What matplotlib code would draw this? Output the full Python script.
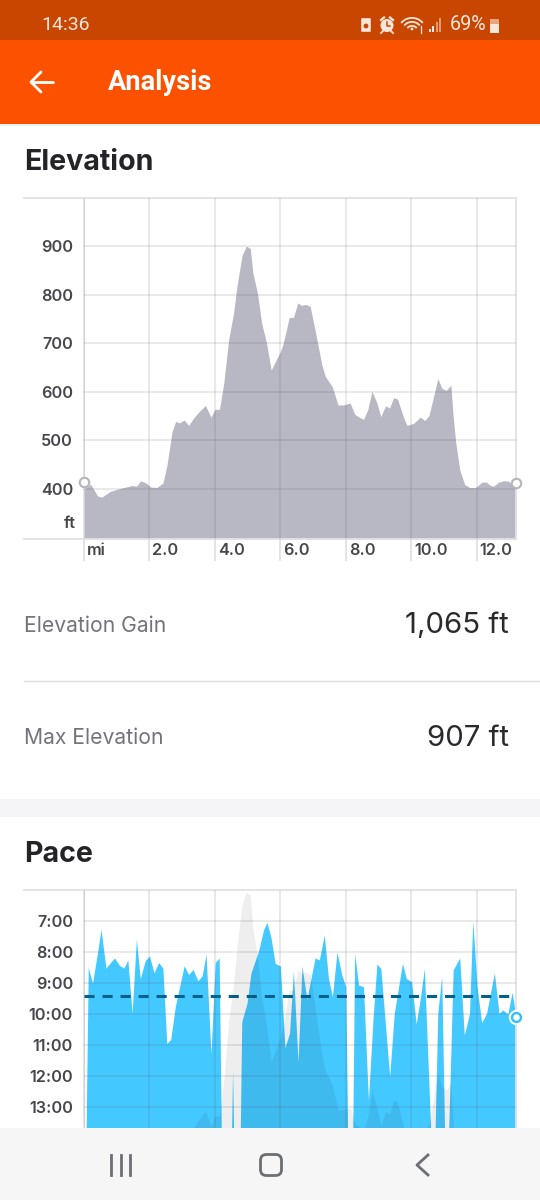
import matplotlib
matplotlib.use("Agg")
import matplotlib.pyplot as plt
from matplotlib.patches import Rectangle, FancyBboxPatch, Circle, Polygon, Wedge
from matplotlib.transforms import ScaledTranslation

plt.rcParams['font.family'] = ['Inter', 'DejaVu Sans']

# ---- data ----
elev_miles = [0, .2, .41, .54, .8, 1.1, 1.46, 1.61, 1.73, 1.9, 2.04, 2.22, 2.41, 2.53, 2.69, 2.8, 2.92, 3.06, 3.2, 3.35,
              3.5, 3.71, 3.88, 4.0, 4.14, 4.27, 4.42, 4.57, 4.67, 4.83, 4.96, 5.08, 5.16, 5.3, 5.43, 5.57, 5.72, 6.0,
              6.09, 6.27, 6.4, 6.53, 6.65, 6.76, 6.91, 7.06, 7.27, 7.37, 7.59, 7.76, 7.93, 8.13, 8.28, 8.54, 8.67, 8.8,
              8.95, 9.07, 9.21, 9.34, 9.46, 9.58, 9.77, 9.87, 10.07, 10.28, 10.41, 10.54, 10.68, 10.81, 10.94, 11.07,
              11.21, 11.28, 11.36, 11.48, 11.63, 11.79, 11.96, 12.16, 12.3, 12.42, 12.52, 12.67, 12.83, 12.98, 13.2]
elev_ft = [400, 410, 386, 383, 395, 401, 407, 406, 417, 412, 404, 403, 412, 447, 518, 539, 536, 542, 531, 546,
           558, 572, 548, 564, 564, 618, 707, 762, 816, 881, 900, 895, 845, 803, 741, 703, 645, 683,
           700, 753, 753, 783, 778, 780, 776, 727, 655, 632, 610, 573, 573, 577, 553, 543, 563, 601,
           577, 549, 571, 567, 588, 585, 546, 531, 535, 548, 541, 551, 590, 627, 607, 603,
           614, 549, 495, 440, 409, 403, 403, 414, 414, 407, 406, 414, 417, 416, 400]

pace_miles = [.05, .13, .26, .41, .52, .67, .93, 1.08, 1.22, 1.34, 1.47, 1.6, 1.72, 1.87, 2.0, 2.14, 2.28, 2.41, 2.53, 2.65,
              2.79, 3.06, 3.2, 3.33, 3.48, 3.61, 3.73, 3.88, 4.01, 4.13, 4.21, 4.49, 4.54, 4.59, 4.76, 4.82, 4.98, 5.1,
              5.34, 5.49, 5.59, 5.71, 5.84, 6.0, 6.14, 6.28, 6.4, 6.54, 6.66, 6.81, 7.06, 7.19, 7.34, 7.47, 7.59, 7.73,
              7.88, 8.0, 8.07, 8.2, 8.27, 8.39, 8.54, 8.69, 8.83, 8.95, 9.07, 9.34, 9.48, 9.73, 9.85, 10.01, 10.15,
              10.27, 10.4, 10.64, 10.7, 10.81, 10.93, 11.04, 11.11, 11.28, 11.48, 11.62, 11.78, 11.88, 12.01, 12.15,
              12.3, 12.54, 12.68, 12.8, 12.95, 13.08, 13.2]
pace_min = [15, 8.5, 9.02, 8.05, 7.28, 8.53, 8.2, 8.44, 8.53, 8.27, 9.99, 7.6, 8.87, 8.29, 8.14, 8.68, 8.35, 8.53, 10.96, 10.83,
            9.77, 8.46, 8.74, 8.57, 8.94, 8.78, 8.08, 11.28, 8.35, 8.2, 15, 15, 11.82, 15, 15, 10.26, 9.67, 8.7,
            7.95, 7.28, 7.06, 7.52, 8.38, 8.46, 11.1, 10.63, 8.61, 11.58, 8.46, 9.54, 8.2, 8.27, 7.46, 8.86, 9.45, 8.01,
            8.76, 9.13, 15, 15, 8.05, 9.08, 9.13, 12.79, 10.2, 8.4, 8.54, 12.03, 9.99, 8.38, 8.87, 8.97, 10.33,
            9.56, 8.54, 15, 15, 9.99, 8.8, 15, 15, 8.59, 8.2, 10.69, 9.99, 7.0, 9.13, 10.29,
            9.99, 8.68, 9.99, 9.88, 10.01, 9.31, 10.1]
avg_pace = 9.42

mile_ticks = [0, 2, 4, 6, 8, 10, 12]
mile_labels = ['mi', '2.0', '4.0', '6.0', '8.0', '10.0', '12.0']
elev_ticks = [400, 500, 600, 700, 800, 900]
pace_ticks = [7, 8, 9, 10, 11, 12, 13]
pace_labels = ['7:00', '8:00', '9:00', '10:00', '11:00', '12:00', '13:00']

# ---- layout helpers ----
W, H = 540, 1200
fig = plt.figure(figsize=(W / 100, H / 100), dpi=100, facecolor='white')

def rect_axes(x0, y0, x1, y1, **kw):
    return fig.add_axes([x0 / W, 1 - y1 / H, (x1 - x0) / W, (y1 - y0) / H], **kw)

bg = rect_axes(0, 0, W, H, zorder=0)
bg.set_xlim(0, W); bg.set_ylim(H, 0); bg.axis('off')
top = rect_axes(0, 0, W, H, zorder=10)
top.set_xlim(0, W); top.set_ylim(H, 0); top.axis('off'); top.patch.set_alpha(0)

GRID = '#5a5a6e'
GALPHA = 0.15
TICKC = '#46464c'
TICKFS = 11.7
STATUS = '#f7e6dc'

# ---- chrome ----
bg.add_patch(Rectangle((0, 799), W, 18, color='#f5f5f7', lw=0))
bg.plot([24, 540], [681, 681], color='#dcdce0', lw=1.0)
for y in (198, 539, 890):
    bg.plot([24, 84], [y, y], color='#e2e2e6', lw=1.3)

top.add_patch(Rectangle((0, 0), W, 40, color='#c94600', lw=0))
top.add_patch(Rectangle((0, 40), W, 84, color='#fc5200', lw=0))
top.add_patch(Rectangle((0, 124), W, 2, color='#f0f0f0', lw=0))
top.add_patch(Rectangle((0, 1128), W, 72, color='#f6f6f6', lw=0))
top.text(41, 25, '14:36', color=STATUS, fontsize=14, va='center', ha='left', family=['Roboto'])
top.text(450, 25, '69%', color=STATUS, fontsize=14.2, va='center', ha='left', family=['Roboto'])
top.text(108, 83, 'Analysis', color='white', fontsize=19.6, fontweight='bold', va='center', ha='left', family=['Roboto'])
# back arrow
top.plot([31, 53], [82, 82], color='white', lw=2.0, solid_capstyle='round')
top.plot([41, 31, 41], [72, 82, 92], color='white', lw=2.0, solid_capstyle='round', solid_joinstyle='round')
# status icons
top.add_patch(FancyBboxPatch((362, 19), 8, 12, boxstyle='round,pad=0.8', color=STATUS, lw=0))
top.add_patch(Circle((366, 26), 2.4, fc='#c94600', lw=0))
top.add_patch(Circle((387, 25.5), 6.5, color=STATUS, lw=0))
top.plot([387, 387, 390], [21.5, 26, 26], color='#c94600', lw=1.1)
top.plot([381, 384], [20, 17.5], color=STATUS, lw=1.6)
top.plot([393, 390], [20, 17.5], color=STATUS, lw=1.6)
top.plot([383, 381], [31, 33], color=STATUS, lw=1.3)
top.plot([391, 393], [31, 33], color=STATUS, lw=1.3)
for r in (15, 11, 7):
    top.add_patch(Wedge((412, 32), r, 220, 320, width=1.8, color=STATUS, lw=0))
top.add_patch(Circle((412, 29), 1.4, color=STATUS, lw=0))
top.plot([421, 421], [26, 33], color=STATUS, lw=0.9)
for i, h in enumerate((3, 6, 10, 14)):
    top.add_patch(Rectangle((429 + i * 3.4, 32 - h), 1.8, h, color=STATUS if i < 2 else '#e09a70', lw=0))
top.add_patch(Rectangle((490, 24), 9, 9, color=STATUS, lw=0))
top.add_patch(Rectangle((490, 19), 9, 5, color='#e8a47a', lw=0))
# nav bar icons
NAV = '#6b6f74'
for x in (111, 120.5, 130):
    top.plot([x, x], [1155, 1175], color=NAV, lw=2.0)
top.add_patch(FancyBboxPatch((260.5, 1154.5), 21, 21, boxstyle='round,pad=0,rounding_size=6', fc='none', ec=NAV, lw=2.0))
top.plot([428, 417, 428], [1155, 1165, 1175], color=NAV, lw=2.0)

# ---- text ----
TITLE = '#242428'
bg.text(24, 163, 'Elevation', fontsize=20.6, fontweight='bold', color=TITLE, va='center', ha='left')
bg.text(24, 855, 'Pace', fontsize=20.6, fontweight='bold', color=TITLE, va='center', ha='left')
bg.text(24, 626, 'Elevation Gain', fontsize=15.2, color='#73737e', va='center', ha='left')
bg.text(24, 738, 'Max Elevation', fontsize=15.2, color='#73737e', va='center', ha='left')
bg.text(509, 626, '1,065 ft', fontsize=21.2, color='#2a2a2e', va='center', ha='right')
bg.text(509, 738, '907 ft', fontsize=21.2, color='#2a2a2e', va='center', ha='right')

def style(ax, yticks, ylabels):
    ax.set_facecolor('none')
    ax.set_xlim(0, 13.2)
    ax.set_xticks(mile_ticks)
    ax.set_yticks(yticks)
    ax.set_yticklabels(ylabels, fontsize=TICKFS, fontweight='semibold', color=TICKC)
    ax.tick_params(axis='y', length=0, pad=8)
    ax.grid(True, color=GRID, alpha=GALPHA, lw=1.3, zorder=3)
    ax.set_axisbelow(False)
    for s in ax.spines.values():
        s.set_color('#e2e2e6')
        s.set_linewidth(1.3)

# ---- elevation chart ----
ax = rect_axes(84, 198, 516, 539, zorder=2)
ax.fill_between(elev_miles, 297, elev_ft, color='#b8b8c4', lw=0, zorder=2)
ax.set_ylim(297, 999)
style(ax, elev_ticks, [str(v) for v in elev_ticks])
ax.set_xticklabels(mile_labels, fontsize=TICKFS, fontweight='semibold', color=TICKC, ha='left')
ax.tick_params(axis='x', length=16, width=1.3, color='#e2e2e6', pad=-13)
shift = ScaledTranslation(3 / 100, 0, fig.dpi_scale_trans)
for lab in ax.get_xticklabels():
    lab.set_transform(lab.get_transform() + shift)
ax.text(-8 / 32.75, 328, 'ft', fontsize=TICKFS, fontweight='semibold', color=TICKC, ha='right', va='center')
ax.plot([0, 13.2], [414, 412], ls='none', marker='o', ms=6.8, mfc='white', mec='#b4b4bc', mew=1.5,
        clip_on=False, zorder=6)

# ---- pace chart ----
ax2 = rect_axes(84, 890, 516, 1128, zorder=2)
ax2.fill_between(pace_miles, 15, pace_min, color='#43c8ff', lw=0, zorder=2)
ax2.set_ylim(13.69, 6.01)
style(ax2, pace_ticks, pace_labels)
ax2.spines['bottom'].set_visible(False)
ax2.set_xticklabels([])
ax2.tick_params(axis='x', length=0)
ax2.plot([0, 13.0], [avg_pace, avg_pace], color='#03628c', lw=2.2, dashes=(3.3, 2.6), zorder=5)
ax2.plot([13.2], [10.1], ls='none', marker='o', ms=10, mfc='white', mec='white', clip_on=False, zorder=6)
ax2.plot([13.2], [10.1], ls='none', marker='o', ms=6.4, mfc='white', mec='#36bdf5', mew=1.7, clip_on=False, zorder=7)

ax3 = ax2.twinx()
ax3.set_zorder(2.5)
ax3.set_ylim(546, 903)
ax3.patch.set_alpha(0)
ax3.fill_between(elev_miles, 300, elev_ft, color='black', alpha=0.065, lw=0)
ax3.set_yticks([])
for s in ax3.spines.values():
    s.set_visible(False)

fig.savefig('out.png', dpi=100, facecolor='white')
